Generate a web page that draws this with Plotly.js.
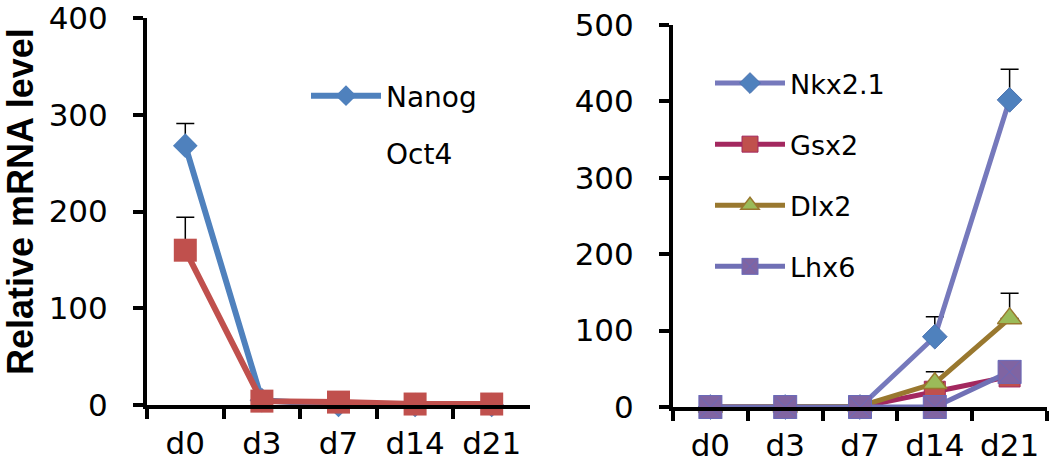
<!DOCTYPE html>
<html>
<head>
<meta charset="utf-8">
<script src="https://cdn.plot.ly/plotly-3.0.1.min.js"></script>
<style>
  html, body { margin: 0; padding: 0; background: white; }
  #chart { width: 1050px; height: 464px; }
</style>
</head>
<body>
<div id="chart"></div>
<script>
// time points
const days = ['d0', 'd3', 'd7', 'd14', 'd21']

// left panel: pluripotency markers
const nanog = [268, 5, 0, 0, 0]
const nanogErr = [23, null, null, null, null]
const oct4 = [160, 4, 3, 1, 1]
const oct4Err = [34, null, null, null, null]

// right panel: ventral forebrain markers
const nkx21 = [0, 0, 0, 92, 402]
const nkx21Err = [null, null, null, 26, 40]
const gsx2 = [0, 0, 0, 20, 40]
const dlx2 = [0, 0, 1, 31, 116]
const dlx2Err = [null, null, null, 15, 33]
const lhx6 = [0, 0, 0, 0, 46]

const W = 1050
const H = 464
const px = (v) => v / W
const py = (v) => 1 - v / H

function errBar(arr) {
    return { type: 'data', symmetric: false, array: arr, arrayminus: arr.map(() => 0), color: 'black', thickness: 1.5, width: 9 }
}

const traces = [
    {
        x: days, y: nanog, name: 'Nanog', mode: 'lines+markers',
        line: { color: '#4F81BD', width: 6 },
        marker: { symbol: 'diamond', size: 19, color: '#4F81BD' },
        error_y: errBar(nanogErr),
        xaxis: 'x', yaxis: 'y', legend: 'legend', legendgroup: 'a', cliponaxis: false,
    },
    {
        x: days, y: oct4, name: 'Oct4', mode: 'lines+markers',
        line: { color: '#C0504D', width: 6 },
        marker: { symbol: 'square', size: 23, color: '#C0504D' },
        error_y: errBar(oct4Err),
        xaxis: 'x', yaxis: 'y', showlegend: false, cliponaxis: false,
    },
    {
        // legend text only, as in the original figure
        x: [null], y: [null], name: 'Oct4', mode: 'lines',
        line: { color: 'rgba(0,0,0,0)', width: 1 },
        xaxis: 'x', yaxis: 'y', legend: 'legend', legendgroup: 'b',
    },
    {
        x: days, y: nkx21, name: 'Nkx2.1', mode: 'lines+markers',
        line: { color: '#7679BC', width: 5 },
        marker: { symbol: 'diamond', size: 19, color: '#4F81BD', line: { color: '#4A72B0', width: 1 } },
        error_y: errBar(nkx21Err),
        xaxis: 'x2', yaxis: 'y2', legend: 'legend2', legendgroup: 'c', cliponaxis: false,
    },
    {
        x: days, y: gsx2, name: 'Gsx2', mode: 'lines+markers',
        line: { color: '#A3285F', width: 5 },
        marker: { symbol: 'square', size: 21, color: '#C0504D', line: { color: '#A3285F', width: 1 } },
        xaxis: 'x2', yaxis: 'y2', legend: 'legend2', legendgroup: 'd', cliponaxis: false,
    },
    {
        x: days, y: dlx2, name: 'Dlx2', mode: 'lines+markers',
        line: { color: '#99782F', width: 5 },
        marker: { symbol: 'triangle-up', size: 21, color: '#9BBB59', line: { color: '#99782F', width: 1.5 } },
        error_y: errBar(dlx2Err),
        xaxis: 'x2', yaxis: 'y2', legend: 'legend2', legendgroup: 'e', cliponaxis: false,
    },
    {
        x: days, y: lhx6, name: 'Lhx6', mode: 'lines+markers',
        line: { color: '#7070B5', width: 5 },
        marker: { symbol: 'square-x', size: 23, color: '#8064A2', line: { color: '#6A6AB8', width: 1 } },
        xaxis: 'x2', yaxis: 'y2', legend: 'legend2', legendgroup: 'f', cliponaxis: false,
    },
]

const tickFont = { family: 'DejaVu Sans, sans-serif', size: 31, color: 'black' }

const xBase = {
    type: 'category', range: [-0.5, 4.5], showgrid: false, zeroline: false,
    showline: true, linecolor: 'black', linewidth: 4,
    ticks: 'outside', tickson: 'boundaries', ticklen: 10, tickwidth: 4, tickcolor: 'black',
    ticklabelstandoff: 8, ticklabeloverflow: 'allow', tickfont: tickFont, fixedrange: true,
}
const yBase = {
    showgrid: false, zeroline: false, showline: true, linecolor: 'black', linewidth: 4,
    ticks: 'outside', ticklen: 10, tickwidth: 4, tickcolor: 'black', dtick: 100,
    ticklabelstandoff: 19, ticklabeloverflow: 'allow', tickfont: tickFont, fixedrange: true,
}

const legendFont = { family: 'DejaVu Sans, sans-serif', size: 27, color: 'black' }

const layout = {
    width: W, height: H,
    margin: { l: 0, r: 0, t: 0, b: 0 },
    paper_bgcolor: 'white', plot_bgcolor: 'white',
    xaxis: { ...xBase, domain: [px(147), px(530)], anchor: 'y' },
    yaxis: { ...yBase, domain: [py(405), py(18)], range: [0, 400], anchor: 'x' },
    xaxis2: { ...xBase, domain: [px(673), px(1047)], anchor: 'y2' },
    yaxis2: { ...yBase, domain: [py(407), py(25)], range: [0, 500], anchor: 'x2' },
    legend: {
        x: px(306), xanchor: 'left', y: py(71), yanchor: 'top',
        font: { ...legendFont, size: 28 }, itemwidth: 70, tracegroupgap: 18, bgcolor: 'rgba(0,0,0,0)',
    },
    legend2: {
        x: px(710), xanchor: 'left', y: py(59), yanchor: 'top',
        font: legendFont, itemwidth: 70, tracegroupgap: 23, bgcolor: 'rgba(0,0,0,0)',
    },
    annotations: [
        {
            text: '<b>Relative mRNA level</b>', textangle: -90,
            xref: 'paper', yref: 'paper', x: px(21), y: py(202),
            xanchor: 'center', yanchor: 'middle', showarrow: false,
            font: { family: 'Liberation Sans, Arial, sans-serif', size: 36, color: 'black' },
        },
    ],
}

Plotly.newPlot('chart', traces, layout, { displayModeBar: false, staticPlot: true })
</script>
</body>
</html>
